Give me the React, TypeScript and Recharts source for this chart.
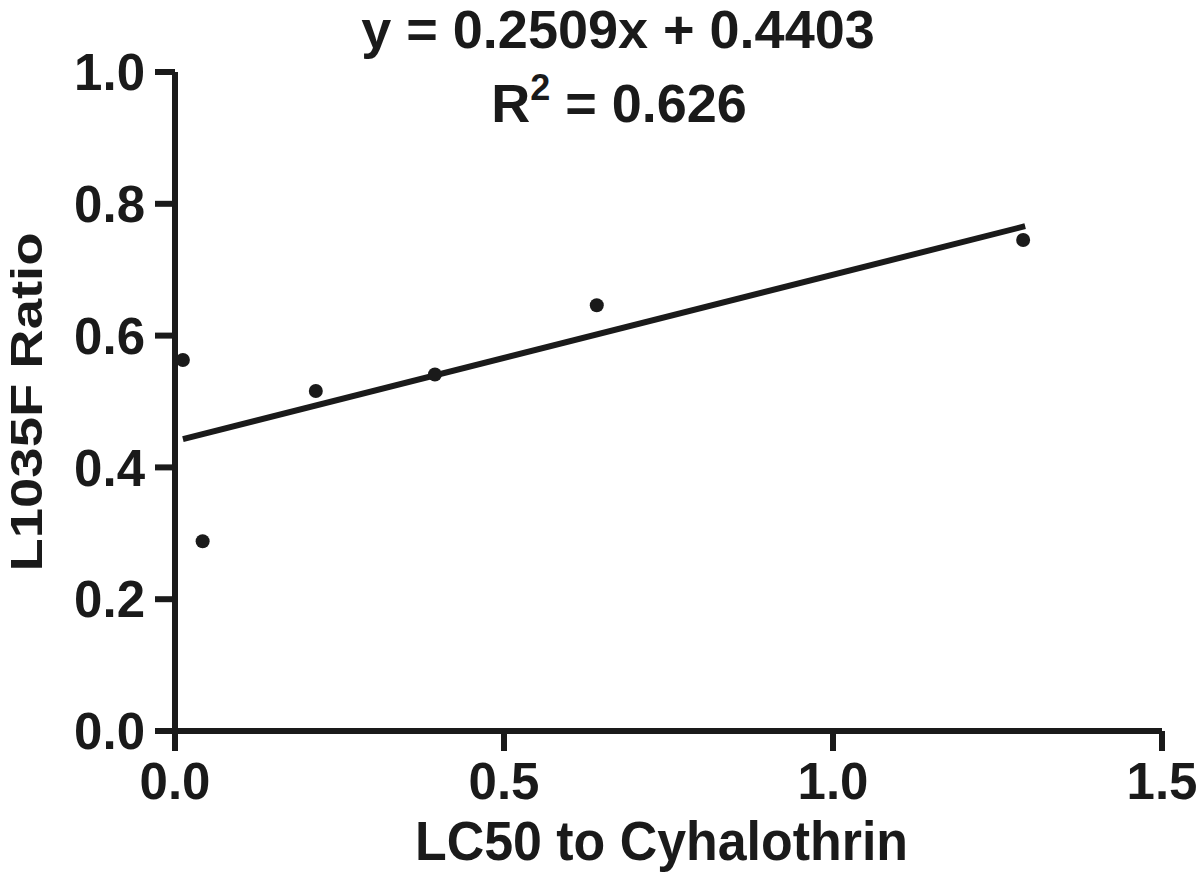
import React from 'react';
import { ScatterChart, Scatter, XAxis, YAxis, Label, Customized } from 'recharts';

// measured points: LC50 to cyhalothrin vs L1035F ratio
const lc50 = [0.012, 0.042, 0.214, 0.395, 0.641, 1.289];
const ratio = [0.563, 0.288, 0.516, 0.541, 0.646, 0.745];

// ends of the fitted line as drawn
const fitX = [0.012, 1.292];
const fitY = [0.443, 0.766];

const xTicks = [0, 0.5, 1.0, 1.5];
const yTicks = [0, 0.2, 0.4, 0.6, 0.8, 1.0];

const equationText = 'y = 0.2509x + 0.4403';
const r2Value = '0.626';

const points = lc50.map((x, i) => ({ x, y: ratio[i] }));
const fitLine = fitX.map((x, i) => ({ x, y: fitY[i] }));

const INK = '#1a1a1a';
const FONT = '"Liberation Sans", Arial, Helvetica, sans-serif';

const tickStyle = { fontSize: 51, fontWeight: 700, fill: INK, fontFamily: FONT };

const Dot = (props: any) => <circle cx={props.cx} cy={props.cy} r={7} fill={INK} />;

const Header = () => (
  <g fontFamily={FONT} fontWeight={700} fill={INK}>
    <text x={618} y={48} fontSize={54} textAnchor="middle">{equationText}</text>
    <text x={619} y={122} fontSize={54} textAnchor="middle">
      R<tspan fontSize={36} dy={-22}>2</tspan>
      <tspan dy={22}>{' = ' + r2Value}</tspan>
    </text>
  </g>
);

const XTitle = (props: any) => {
  const vb = props.viewBox;
  return (
    <text x={vb.x + vb.width / 2 - 7} y={860} textAnchor="middle" fontSize={56} fontWeight={700}
      fill={INK} fontFamily={FONT} textLength={493} lengthAdjust="spacingAndGlyphs">
      LC50 to Cyhalothrin
    </text>
  );
};

const YTitle = () => (
  <text x={0} y={0} transform="translate(42, 402) rotate(-90)" textAnchor="middle" fontSize={45}
    fontWeight={700} fill={INK} fontFamily={FONT} textLength={339} lengthAdjust="spacingAndGlyphs">
    L1035F Ratio
  </text>
);

export default function App() {
  return (
    <div style={{ position: 'absolute', left: 0, top: 0, width: 1200, height: 890, background: '#fff' }}>
      <ScatterChart width={1200} height={890} margin={{ top: 72, right: 38, left: 0, bottom: 0 }}>
        <XAxis
          type="number"
          dataKey="x"
          domain={[0, 1.5]}
          ticks={xTicks}
          tickFormatter={(v: number) => v.toFixed(1)}
          height={159}
          tickSize={20}
          tickMargin={12}
          axisLine={{ stroke: INK, strokeWidth: 6 }}
          tickLine={{ stroke: INK, strokeWidth: 6 }}
          tick={tickStyle}
        >
          <Label content={<XTitle />} />
        </XAxis>
        <YAxis
          type="number"
          dataKey="y"
          domain={[0, 1]}
          ticks={yTicks}
          tickFormatter={(v: number) => v.toFixed(1)}
          width={175}
          tickSize={20}
          tickMargin={10}
          axisLine={{ stroke: INK, strokeWidth: 6 }}
          tickLine={{ stroke: INK, strokeWidth: 6 }}
          tick={tickStyle}
        >
          <Label content={<YTitle />} />
        </YAxis>
        <Scatter
          data={fitLine}
          line={{ stroke: INK, strokeWidth: 6 }}
          shape={() => <g />}
          isAnimationActive={false}
        />
        <Scatter data={points} shape={<Dot />} isAnimationActive={false} />
        <Customized component={<Header />} />
      </ScatterChart>
    </div>
  );
}
